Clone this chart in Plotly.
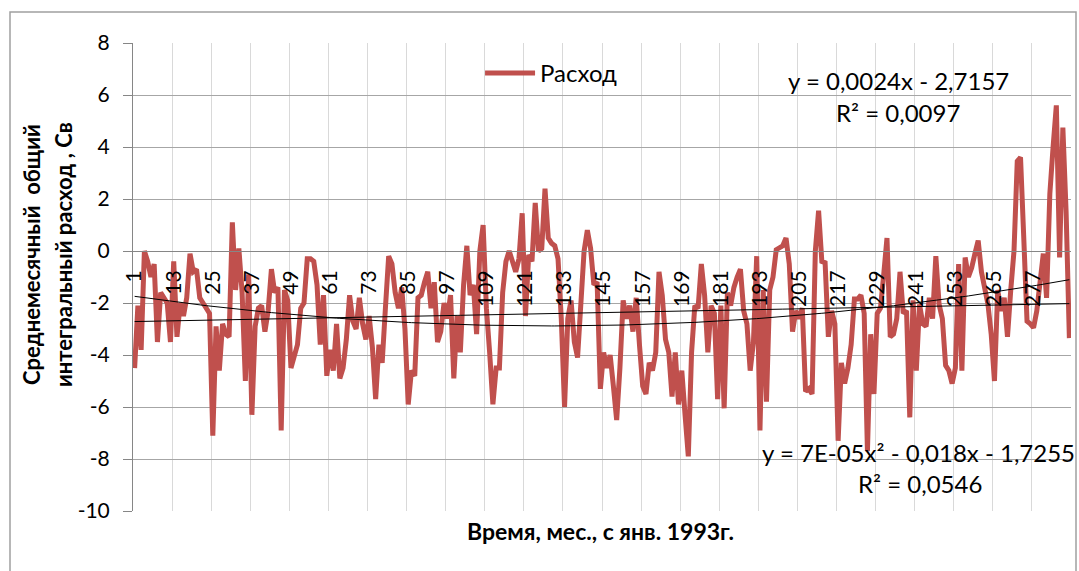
import plotly.graph_objects as go

# Monthly mean total integral discharge (Sv), months counted from January 1993
discharge = [
    -4.5, -2.1, -3.8, 0.0, -0.4, -1.0, -0.5, -3.5, -1.6, -1.8, -2.0, -3.5,
    -0.4, -3.3, -2.0, -2.5, -1.8, -0.1, -0.8, -0.7, -1.8, -2.0, -2.2, -2.4,
    -7.1, -2.9, -4.6, -2.8, -3.2, -3.3, 1.1, -1.5, 0.1, -1.6, -5.0, -0.9,
    -6.3, -2.9, -2.2, -2.1, -3.1, -2.3, -0.7, -1.6, -1.4, -6.9, -1.5, -1.9,
    -4.5, -4.0, -3.6, -2.2, -2.0, -0.3, -0.3, -0.4, -1.3, -3.6, -1.7, -4.8,
    -3.8, -4.6, -2.8, -4.9, -4.5, -3.4, -1.7, -2.7, -3.0, -1.8, -2.8, -3.4,
    -2.5, -3.7, -5.7, -3.6, -4.3, -2.2, -0.2, -0.5, -1.6, -2.2, -1.4, -3.0,
    -5.9, -4.6, -4.8, -1.8, -1.7, -1.2, -0.8, -2.2, -1.2, -3.5, -3.1, -2.0,
    -2.6, -1.7, -4.9, -2.5, -3.9, -1.3, 0.2, -1.7, -1.3, -3.2, 0.0, 1.0,
    -2.2, -3.9, -5.9, -4.5, -4.5, -1.6, -0.4, 0.0, -0.4, -0.8, -0.3, 1.45,
    -2.5, -0.15, -0.4, 1.85, 0.0, 0.1, 2.4, 0.5, 0.3, 0.2, -0.3, -2.6,
    -6.0, -2.6, -1.9, -3.5, -4.1, -2.3, 0.0, 0.8, 0.1, -1.3, -1.2, -5.3,
    -3.9, -4.5, -4.0, -5.2, -6.5, -4.5, -1.9, -2.6, -2.1, -3.1, -1.8, -3.6,
    -5.2, -5.5, -4.3, -4.6, -3.9, -0.8, -1.7, -3.4, -3.9, -5.6, -3.9, -5.9,
    -4.6, -6.3, -7.9, -3.9, -2.1, -2.2, -0.5, -1.7, -3.9, -2.1, -2.4, -5.7,
    -2.1, -6.05, -1.6, -2.1, -1.4, -1.0, -0.7, -2.3, -2.8, -4.6, -3.5, -0.2,
    -6.9, -1.5, -5.8, -1.5, -1.0, 0.05, 0.1, 0.2, 0.5, -0.5, -3.1, -2.3,
    -2.6, -2.2, -5.4, -5.3, -5.5, 0.0, 1.55, -0.4, -0.45, -3.3, -2.3, -2.8,
    -7.3, -4.3, -5.1, -4.5, -3.6, -1.85, -1.85, -1.7, -2.4, -7.7, -3.2, -5.5,
    -2.4, -2.2, -0.9, 0.5, -3.3, -3.2, -2.6, -0.8, -2.4, -2.3, -6.4, -1.9,
    -4.6, -2.05, -2.8, -2.9, -1.8, -2.6, -0.2, -2.05, -2.6, -4.4, -4.6, -5.1,
    -4.5, -0.5, -4.6, -0.25, -1.0, -0.65, -0.1, 0.4, -0.8, -1.4, -2.05, -3.2,
    -5.0, -1.5, -2.3, -1.8, -3.3, -1.5, 0.0, 3.45, 3.6, 0.5, -2.7, -2.8,
    -2.95, -2.3, -1.3, -0.1, -1.8, 2.2, 4.0, 5.6, -0.25, 4.75, 1.5, -3.35,
]
months = list(range(1, len(discharge) + 1))

# Category labels every 12 months, value-axis ticks
tick_months = list(range(1, len(discharge) + 1, 12))
y_ticks = list(range(-10, 9, 2))

# Trendline equations as printed on the chart
lin_coef = [0.0024, -2.7157]
poly_coef = [7e-05, -0.018, -1.7255]
lin_trend = [lin_coef[0] * m + lin_coef[1] for m in months]
poly_trend = [poly_coef[0] * m * m + poly_coef[1] * m + poly_coef[2] for m in months]

FONT = "Lato"
RED = "#C0504D"
AXIS_GREY = "#868686"

fig = go.Figure()
fig.add_trace(go.Scatter(
    x=months, y=discharge, mode="lines", name="Расход",
    line=dict(color=RED, width=5),
))
fig.add_trace(go.Scatter(
    x=months, y=lin_trend, mode="lines", xaxis="x2", yaxis="y",
    line=dict(color="black", width=1), showlegend=False, hoverinfo="skip",
))
fig.add_trace(go.Scatter(
    x=months, y=poly_trend, mode="lines", xaxis="x2", yaxis="y",
    line=dict(color="black", width=1), showlegend=False, hoverinfo="skip",
))

x_range = [0.5, len(discharge) + 0.5]

fig.update_layout(
    width=1079, height=571,
    margin=dict(l=133, r=8, t=43, b=60),
    paper_bgcolor="white", plot_bgcolor="white",
    font=dict(family=FONT, size=20, color="black"),
    xaxis=dict(
        range=x_range,
        tickvals=[m - 0.5 for m in tick_months],
        showticklabels=False, ticks="",
        showgrid=True, gridcolor="#D9D9D9", gridwidth=1,
        zeroline=False, showline=False,
    ),
    xaxis2=dict(
        range=x_range, overlaying="x", anchor="free",
        position=10 / 18, side="bottom",
        tickvals=tick_months, ticktext=[str(m) for m in tick_months],
        tickangle=-90, ticks="", ticklabelstandoff=10,
        tickfont=dict(family=FONT, size=21, color="black"),
        showgrid=False, zeroline=False,
        showline=True, linecolor=AXIS_GREY, linewidth=1,
    ),
    yaxis=dict(
        range=[-10, 8],
        tickvals=y_ticks, ticktext=[str(v) for v in y_ticks],
        ticks="outside", ticklen=9, tickcolor=AXIS_GREY,
        ticklabelstandoff=9,
        tickfont=dict(family=FONT, size=21, color="black"),
        showgrid=True, gridcolor="#A6A6A6", gridwidth=1,
        showline=True, linecolor=AXIS_GREY, linewidth=1,
        zeroline=False,
    ),
    legend=dict(
        x=0.370, y=0.935, xanchor="left", yanchor="middle",
        bgcolor="rgba(0,0,0,0)", font=dict(family=FONT, size=24),
        itemwidth=50,
    ),
    showlegend=True,
)

# Chart-area frame
fig.add_shape(
    type="rect", xref="paper", yref="paper",
    x0=(10 - 133) / 938, x1=(1076 - 133) / 938,
    y0=(511 - 580) / 468, y1=(511 - 12) / 468,
    line=dict(color="#A0A0A0", width=1.5), fillcolor="rgba(0,0,0,0)",
    layer="below",
)

# Axis titles
title_font = dict(family=FONT, size=22, color="black")
fig.add_annotation(
    text="<b>Среднемесячный\u00a0 общий</b>",
    xref="paper", yref="paper", x=(31 - 133) / 938, y=0.547,
    xanchor="center", yanchor="middle",
    textangle=-90, showarrow=False, font=title_font,
)
fig.add_annotation(
    text="<b>интегральный расход , Св</b>",
    xref="paper", yref="paper", x=(63 - 133) / 938, y=0.547,
    xanchor="center", yanchor="middle",
    textangle=-90, showarrow=False, font=title_font,
)
fig.add_annotation(
    text="<b>Время, мес., с янв. 1993г.</b>",
    xref="paper", yref="paper", x=0.4979, y=-0.043,
    xanchor="center", yanchor="middle",
    showarrow=False, font=dict(family=FONT, size=23, color="black"),
)

# Trendline equations
eq_font = dict(family=FONT, size=24, color="black")
equations = [
    ("y = 0,0024x - 2,7157", 898, 80),
    ("R² = 0,0097", 898, 112),
    ("y = 7E-05x² - 0,018x - 1,7255", 918, 452),
    ("R² = 0,0546", 920, 483),
]
for text, px, py in equations:
    fig.add_annotation(
        text=text, xref="paper", yref="paper",
        x=(px - 133) / 938, y=(511 - py) / 468,
        xanchor="center", yanchor="middle",
        showarrow=False, font=eq_font,
    )

fig.write_html("out.html")
